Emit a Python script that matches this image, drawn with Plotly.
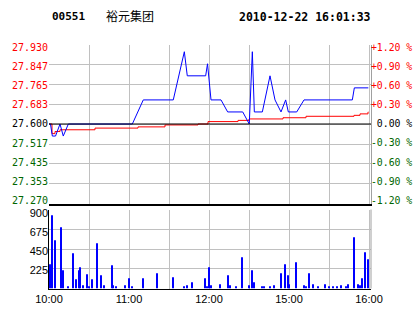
import plotly.graph_objects as go

# ---------------- data ----------------
stock_code = "00551"
stock_name = "裕元集团"
stamp = "2010-12-22 16:01:33"
prev_close = 27.600

# session minutes since 10:00 (lunch break removed: 12:30 -> 150, 14:30 -> 150)
price_min = [0, 1.1, 2.5, 4.9, 8.25, 10.7, 14.5, 62.5, 70.7, 93.2, 101.5, 103.7,
             117.5, 118.9, 121.5, 129, 134, 145.3, 150.2, 151.1, 152.5, 154,
             160, 165.75, 169.5, 174, 177.5, 179.5, 185.8, 191.25, 227.5, 229, 239.5]
price_val = [27.60, 27.60, 27.55, 27.55, 27.60, 27.55, 27.60, 27.60, 27.70, 27.70, 27.90, 27.80,
             27.80, 27.85, 27.70, 27.70, 27.65, 27.65, 27.60, 27.75, 27.90, 27.65,
             27.65, 27.80, 27.70, 27.65, 27.70, 27.65, 27.65, 27.70, 27.70, 27.75, 27.75]

avg_min = [0, 2.25, 4.5, 8.25, 34.5, 66.75, 87, 111.75, 119.25, 141.75, 150,
           175.5, 192.75, 228.75, 233.25, 239.25, 239.5]
avg_val = [27.600, 27.560, 27.569, 27.576, 27.583, 27.588, 27.596, 27.600, 27.610, 27.615, 27.621,
           27.626, 27.632, 27.636, 27.642, 27.650, 27.650]

vol_min = [0.75, 2.5, 4.7, 9.2, 10.7, 14.5, 18.2, 20.5, 22.7, 23.5, 25.7, 28.7, 30.2, 32.5,
           36.2, 39.2, 41.5, 47.5, 48.2, 50.5, 57.2, 60.2, 62.6, 70.7, 81.2, 93.2, 101.5,
           103.7, 107.5, 117.2, 118.7, 120.2, 121.7, 128.5, 134.5, 136, 140.5, 145, 150.2,
           152.5, 154, 160, 161.5, 166, 169, 174.2, 177.2, 179.5, 180.2, 185.5, 191.5, 193,
           194.8, 198.2, 202, 207.2, 210.2, 213.2, 216.2, 219.2, 223, 224.5, 229, 232, 233.5,
           235, 237.2, 239.5]
vol = [277, 835, 550, 698, 208, 26, 402, 106, 208, 243, 38, 163, 26, 106,
       516, 152, 38, 265, 38, 26, 38, 117, 26, 117, 174, 129, 26,
       38, 72, 117, 26, 243, 38, 49, 152, 38, 26, 357, 38,
       208, 72, 26, 26, 26, 38, 174, 277, 152, 49, 300, 38, 26,
       174, 49, 26, 49, 26, 26, 26, 38, 26, 49, 584, 49, 38,
       117, 413, 334]

time_ticks = [0, 30, 60, 90, 120, 150, 180, 210, 240]
time_labels = ["10:00", "", "11:00", "", "12:00", "", "15:00", "", "16:00"]
price_ticks = [27.270, 27.353, 27.435, 27.517, 27.600, 27.683, 27.765, 27.847, 27.930]
pct_ticks = [-1.2, -0.9, -0.6, -0.3, 0.0, 0.3, 0.6, 0.9, 1.2]
vol_ticks = [225, 450, 675, 900]

RED = "#ff0000"
GREEN = "#006600"
GRID = "#c0c0c0"

def col(v, ref):
    return RED if v > ref + 1e-9 else (GREEN if v < ref - 1e-9 else "#000000")

price_text = ['<span style="color:%s">%.3f</span>' % (col(p, prev_close), p) for p in price_ticks]
pct_text = []
for p in pct_ticks:
    s = ("+%.2f %%" % p) if p > 0 else (("%.2f %%" % p) if p < 0 else "\u00a00.00 %")
    pct_text.append('<span style="color:%s">%s</span>' % (col(p, 0), s))

W, H = 414, 314
xdom = [49 / W, 371 / W]
pdom = [(H - 203.5) / H, (H - 44.5) / H]
vdom = [(H - 288.5) / H, (H - 209.5) / H]
xr = [0, 241.5]
price_range = [27.27, 27.93]
# label axes: the labels in the reference sit slightly inside the grid span
label_price_range = [27.2557, 27.9439]
label_pct_range = [-1.252, 1.250]
label_vol_range = [2.8, 947.6]

fig = go.Figure()
fig.add_trace(go.Bar(x=vol_min, y=vol, width=0.75, marker=dict(color="#0000ff", line=dict(width=0)),
                     xaxis="x", yaxis="y", hoverinfo="skip"))
fig.add_trace(go.Scatter(x=avg_min, y=avg_val, mode="lines", line=dict(color=RED, width=1, shape="hv"),
                         xaxis="x2", yaxis="y2", hoverinfo="skip"))
fig.add_trace(go.Scatter(x=price_min, y=price_val, mode="lines", line=dict(color="#0000ff", width=1),
                         xaxis="x2", yaxis="y2", hoverinfo="skip"))
for ya in ("y3", "y4"):
    fig.add_trace(go.Scatter(x=[0], y=[0 if ya == "y3" else prev_close], mode="markers",
                             marker=dict(opacity=0), xaxis="x2", yaxis=ya, hoverinfo="skip"))
fig.add_trace(go.Scatter(x=[0], y=[100], mode="markers", marker=dict(opacity=0),
                         xaxis="x", yaxis="y5", hoverinfo="skip"))

mono = dict(family="DejaVu Sans Mono", size=10, color="#000000")
sans = dict(family="Liberation Sans, Arial", size=11, color="#000000")

fig.update_layout(
    width=W, height=H, margin=dict(l=0, r=0, t=0, b=0),
    paper_bgcolor="white", plot_bgcolor="white", showlegend=False,
    xaxis=dict(domain=xdom, range=xr, anchor="y", tickmode="array", tickvals=time_ticks,
               ticktext=time_labels, showgrid=True, gridcolor=GRID, gridwidth=1,
               showline=True, linecolor="#000000", linewidth=1, ticks="", zeroline=False,
               tickfont=sans, automargin=False, fixedrange=True),
    yaxis=dict(domain=vdom, range=[0, 900], anchor="x", tickmode="array", tickvals=vol_ticks,
               showticklabels=False, showgrid=True, gridcolor=GRID, showline=True,
               linecolor="#000000", linewidth=1, ticks="", zeroline=False,
               automargin=False, fixedrange=True),
    yaxis5=dict(range=label_vol_range, overlaying="y", side="left", anchor="x", tickmode="array",
                tickvals=vol_ticks, showgrid=False, showline=False, ticks="", zeroline=False,
                tickfont=sans, automargin=False, fixedrange=True),
    xaxis2=dict(domain=xdom, range=xr, anchor="y2", tickmode="array", tickvals=time_ticks,
                showticklabels=False, showgrid=True, gridcolor=GRID, showline=True,
                linecolor="#000000", linewidth=2, ticks="", zeroline=False,
                automargin=False, fixedrange=True),
    yaxis2=dict(domain=pdom, range=price_range, anchor="x2", tickmode="array",
                tickvals=price_ticks, showticklabels=False, showgrid=True, gridcolor=GRID,
                showline=False, ticks="", zeroline=False, automargin=False, fixedrange=True),
    yaxis4=dict(range=label_price_range, overlaying="y2", side="left", anchor="x2",
                tickmode="array", tickvals=price_ticks, ticktext=price_text, showgrid=False,
                showline=False, ticks="", zeroline=False, tickfont=mono,
                automargin=False, fixedrange=True),
    yaxis3=dict(range=label_pct_range, overlaying="y2", side="right", anchor="x2", tickmode="array",
                tickvals=pct_ticks, ticktext=pct_text, showgrid=False, showline=True,
                linecolor="#a0a0a0", linewidth=1, ticks="", zeroline=False,
                ticklabelstandoff=-3,
                tickfont=dict(family="DejaVu Sans Mono", size=9.8, color="#000000"),
                automargin=False, fixedrange=True),
    shapes=[
        dict(type="line", xref="x2 domain", x0=0, x1=1, yref="y2", y0=prev_close, y1=prev_close,
             line=dict(color="#000000", width=1)),
        dict(type="line", xref="x domain", x0=1, x1=1, yref="y domain", y0=0, y1=1,
             line=dict(color="#a0a0a0", width=1)),
    ],
    annotations=[
        dict(text="<b>%s</b>" % stock_code, xref="paper", yref="paper", x=50 / W, y=(H - 17) / H,
             xanchor="left", yanchor="middle", showarrow=False,
             font=dict(family="DejaVu Sans Mono", size=11, color="#000000")),
        dict(text=stock_name, xref="paper", yref="paper", x=104 / W, y=(H - 16) / H,
             xanchor="left", yanchor="middle", showarrow=False,
             font=dict(family="Noto Sans CJK SC", size=12, color="#000000")),
        dict(text="<b>%s</b>" % stamp, xref="paper", yref="paper", x=237 / W, y=(H - 17) / H,
             xanchor="left", yanchor="middle", showarrow=False,
             font=dict(family="DejaVu Sans Mono", size=11.5, color="#000000")),
    ],
)

fig.write_html("out.html")
